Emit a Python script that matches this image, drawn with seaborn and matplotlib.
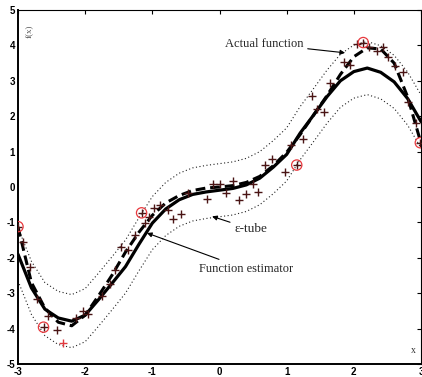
import numpy as np
import pandas as pd
import matplotlib
matplotlib.use("Agg")
import matplotlib.pyplot as plt
import seaborn as sns

# ---- data ----
x_grid = [-3.0, -2.8, -2.6, -2.4, -2.2, -2.0, -1.8, -1.6, -1.4, -1.2, -1.0,
          -0.8, -0.6, -0.4, -0.2, 0.0, 0.2, 0.4, 0.6, 0.8, 1.0,
          1.2, 1.4, 1.6, 1.8, 2.0, 2.2, 2.4, 2.6, 2.8, 3.0]
estimator = [-1.9, -2.85, -3.45, -3.70, -3.79, -3.62, -3.18, -2.72, -2.25, -1.62, -1.02,
             -0.62, -0.36, -0.21, -0.14, -0.09, -0.04, 0.06, 0.25, 0.56, 0.92,
             1.52, 2.03, 2.55, 3.0, 3.26, 3.36, 3.24, 2.97, 2.5, 1.85]
actual = [-1.13, -2.7, -3.42, -3.82, -3.92, -3.62, -3.07, -2.49, -1.84, -1.28, -0.8,
          -0.45, -0.24, -0.1, -0.03, 0.0, 0.04, 0.13, 0.3, 0.6, 0.98,
          1.48, 2.03, 2.58, 3.18, 3.68, 3.93, 3.9, 3.5, 2.55, 1.24]
epsilon = 0.75

samples_x = [-2.92, -2.82, -2.71, -2.55, -2.62, -2.42, -2.14, -2.03, -1.96, -1.75,
             -1.63, -1.56, -1.46, -1.36, -1.26, -1.11, -1.05, -0.98, -0.88, -0.76,
             -0.69, -0.58, -0.47, -0.19, -0.10, 0.01, 0.10, 0.20, 0.29, 0.40,
             0.50, 0.58, 0.68, 0.78, 0.98, 1.07, 1.25, 1.37, 1.45, 1.55,
             1.65, 1.85, 1.94, 2.04, 2.23, 2.34, 2.43, 2.51, 2.61, 2.73,
             2.81, 2.92, -3.0, -1.16, 1.15, 2.14, 2.99]
samples_y = [-1.55, -2.27, -3.17, -3.64, -3.96, -4.04, -3.69, -3.49, -3.59, -3.08,
             -2.75, -2.34, -1.70, -1.78, -1.36, -1.03, -0.86, -0.60, -0.51, -0.65,
             -0.90, -0.76, -0.17, -0.35, 0.08, 0.08, -0.16, 0.18, -0.37, -0.20,
             0.08, -0.13, 0.62, 0.78, 0.43, 1.19, 1.37, 2.58, 2.19, 2.13,
             2.93, 3.52, 3.45, 4.04, 3.95, 3.85, 3.95, 3.68, 3.42, 3.26,
             2.41, 1.80, -1.12, -0.73, 0.62, 4.08, 1.25]
odd_x = [-2.33]
odd_y = [-4.40]
sv_x = [-3.0, -2.62, -1.16, 1.15, 2.14, 2.99]
sv_y = [-1.12, -3.96, -0.73, 0.62, 4.08, 1.25]

xticks = [-3, -2, -1, 0, 1, 2, 3]
yticks = [-5, -4, -3, -2, -1, 0, 1, 2, 3, 4, 5]

# ---- plotting ----
sns.set_style("white")
plt.rcParams['font.family'] = ['Liberation Serif', 'DejaVu Serif']

df = pd.DataFrame({"x": x_grid, "est": estimator, "act": actual})
df["upper"] = df["est"] + epsilon
df["lower"] = df["est"] - epsilon

fig = plt.figure(figsize=(4.22, 3.77), dpi=100)
ax = fig.add_axes([18/422, 13/377, 403/422, 354/377])

for col in ["upper", "lower"]:
    sns.lineplot(data=df, x="x", y=col, ax=ax, color="#222222", lw=0.8,
                 linestyle=(0, (1, 2.2)), legend=False)
sns.lineplot(data=df, x="x", y="est", ax=ax, color="black", lw=2.3, legend=False)
sns.lineplot(data=df, x="x", y="act", ax=ax, color="black", lw=2.2,
             linestyle=(0, (3.2, 1.6)), legend=False)

sns.scatterplot(x=samples_x, y=samples_y, ax=ax, marker="+", s=32,
                color="#4a1515", linewidth=1.0, legend=False, zorder=5)
sns.scatterplot(x=odd_x, y=odd_y, ax=ax, marker="+", s=32,
                color="#e0393e", linewidth=1.0, legend=False, zorder=5)
sns.scatterplot(x=sv_x, y=sv_y, ax=ax, marker="o", s=55,
                facecolor="none", edgecolor="#e8383d", linewidth=0.9,
                legend=False, zorder=6)

ax.set_xlim(-3, 3)
ax.set_ylim(-5, 5)
ax.set_xticks(xticks)
ax.set_yticks(yticks)
ax.set_xticklabels([str(t) for t in xticks], fontfamily="Liberation Sans",
                   fontweight="bold", fontsize=7)
ax.set_yticklabels([str(t) for t in yticks], fontfamily="Liberation Sans",
                   fontweight="bold", fontsize=7)
ax.tick_params(direction="in", length=3, width=0.8, top=True, right=True,
               labeltop=False, labelright=False, pad=2, colors="black")
ax.set_xlabel("")
ax.set_ylabel("")
for sp in ax.spines.values():
    sp.set_visible(True)
    sp.set_color("black")
ax.spines["left"].set_linewidth(1.4)
ax.spines["bottom"].set_linewidth(1.4)
ax.spines["top"].set_linewidth(0.8)
ax.spines["right"].set_linewidth(0.8)

ax.text(0.03, 0.96, "f(x)", transform=ax.transAxes, rotation=90,
        fontsize=6.5, color="#555555", ha="center", va="top")
ax.text(0.982, 0.025, "x", transform=ax.transAxes, fontsize=7,
        color="#333333", ha="center", va="bottom")

arrow = dict(arrowstyle="-|>", color="black", lw=0.8,
             mutation_scale=7, shrinkA=1, shrinkB=0)
ax.annotate("Actual function", xy=(1.87, 3.79), xytext=(0.66, 4.04),
            ha="center", va="center", fontsize=9, arrowprops=arrow)
ax.annotate("ε-tube", xy=(-0.11, -0.83), xytext=(0.47, -1.19),
            ha="center", va="center", fontsize=9.5, arrowprops=arrow)
ax.annotate("Function estimator", xy=(-1.08, -1.30), xytext=(0.39, -2.32),
            ha="center", va="center", fontsize=9, arrowprops=arrow)

fig.savefig("out.png", dpi=100)
